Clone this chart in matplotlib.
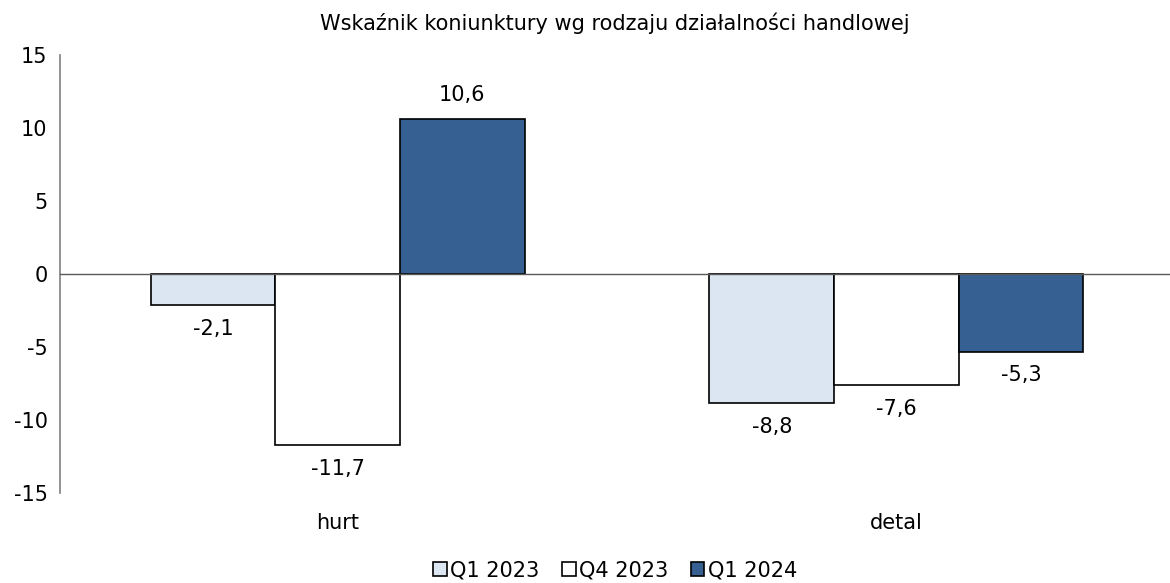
import matplotlib.pyplot as plt
import numpy as np

# dane
kategorie = ['hurt', 'detal']
serie = ['Q1 2023', 'Q4 2023', 'Q1 2024']
q1_2023 = [-2.1, -8.8]
q4_2023 = [-11.7, -7.6]
q1_2024 = [10.6, -5.3]
kolory = ['#DCE6F2', '#FFFFFF', '#376092']

wartosci = [q1_2023, q4_2023, q1_2024]
fs = 15

fig = plt.figure(figsize=(11.7, 5.83), dpi=100)
ax = fig.add_axes([0.0513, 0.154, 0.9487, 0.7517])

x = np.arange(len(kategorie))
szer = 0.223

for i, (nazwa, wart, kol) in enumerate(zip(serie, wartosci, kolory)):
    poz = x + (i - 1) * szer
    ax.bar(poz, wart, szer, color=kol, edgecolor='black',
           linewidth=1.2, label=nazwa, zorder=2)
    for p, v in zip(poz, wart):
        off = 10 if v >= 0 else -10
        ax.annotate(f'{v:.1f}'.replace('.', ','), (p, v),
                    xytext=(0, off), textcoords='offset points',
                    ha='center', va='bottom' if v >= 0 else 'top',
                    fontsize=fs)

ax.axhline(0, color='#595959', linewidth=1, zorder=3)
ax.set_xlim(-0.497, 1.49)
ax.set_ylim(-15, 15)
ax.set_yticks([-15, -10, -5, 0, 5, 10, 15])
ax.set_yticklabels(['-15', '-10', '-5', '0', '5', '10', '15'])
ax.set_xticks(x)
ax.set_xticklabels(kategorie)
ax.tick_params(axis='y', length=0, pad=9, labelsize=fs)
ax.tick_params(axis='x', length=0, pad=14, labelsize=fs)
for s in ['top', 'right', 'bottom']:
    ax.spines[s].set_visible(False)
ax.spines['left'].set_color('#7f7f7f')
ax.spines['left'].set_linewidth(1.2)

ax.set_title('Wskaźnik koniunktury wg rodzaju działalności handlowej',
             fontsize=fs, pad=18)

ax.legend(loc='upper center', bbox_to_anchor=(0.5, -0.13), ncol=3,
          frameon=False, fontsize=fs, handlelength=0.65, borderpad=0,
          handleheight=0.65, handletextpad=0.15, columnspacing=1.1)

fig.savefig('out.png', dpi=100)
